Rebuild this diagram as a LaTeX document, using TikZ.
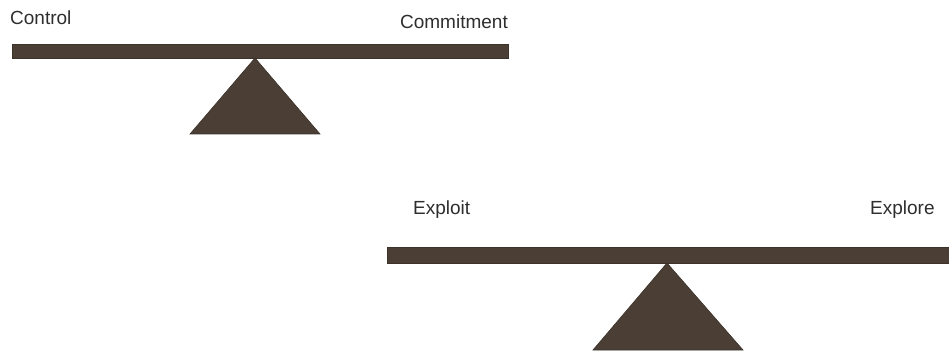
\documentclass[tikz,border=0pt]{standalone}
\usepackage{fontspec}
\setmainfont{Liberation Sans}
\definecolor{beam}{HTML}{4A3E35}
\definecolor{labeltext}{HTML}{2E2E2E}
\begin{document}
\begin{tikzpicture}[x=1pt,y=-1pt,
  part/.style={fill=beam,draw=beam!80!black,line width=0.6pt},
  lbl/.style={text=labeltext,inner sep=0pt,font=\fontsize{19}{22}\selectfont}]
\useasboundingbox (0,0) rectangle (949,352);

% upper seesaw: Control vs Commitment
\coordinate (pivotA) at (255,58);
\fill[part] (12,44) rectangle (508,58);
\fill[part] (pivotA) -- (320,134) -- (190,134) -- cycle;
\node[lbl,anchor=base west] (control) at (10,25) {Control};
\node[lbl,anchor=base east] (commit) at (508,29) {Commitment};

% lower seesaw: Exploit vs Explore
\coordinate (pivotB) at (667,263);
\fill[part] (387,247) rectangle (949,263);
\fill[part] (pivotB) -- (743,350) -- (593,350) -- cycle;
\node[lbl,anchor=base west] (exploit) at (413,215) {Exploit};
\node[lbl,anchor=base west] (explore) at (870,215) {Explore};
\end{tikzpicture}
\end{document}
